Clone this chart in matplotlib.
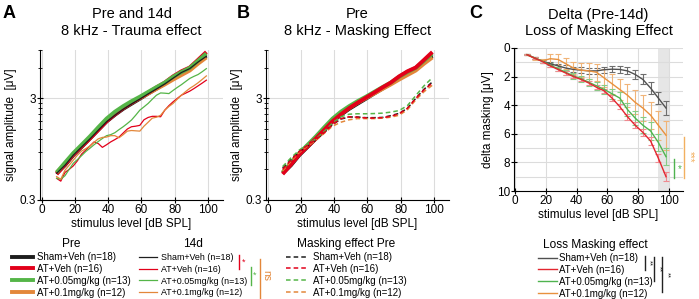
import matplotlib
matplotlib.use('Agg')
import matplotlib.pyplot as plt
from matplotlib.lines import Line2D
from matplotlib.ticker import FixedLocator, NullFormatter

plt.rcParams['font.family'] = ['Liberation Sans', 'DejaVu Sans']

# stimulus levels [dB SPL]
lev5 = [9, 14, 19, 24, 29, 34, 39, 44, 49, 54, 59, 64, 69, 74, 79, 84, 89, 94, 99]
lev25 = [9, 11.5, 14, 16.5, 19, 21.5, 24, 26.5, 29, 31.5, 34, 36.5, 39, 41.5, 44, 46.5,
         49, 51.5, 54, 56.5, 59, 61.5, 64, 66.5, 69, 71.5, 74, 76.5, 79, 81.5, 84,
         86.5, 89, 91.5, 94, 96.5, 99]

groups = ['Sham+Veh (n=18)', 'AT+Veh (n=16)', 'AT+0.05mg/kg (n=13)', 'AT+0.1mg/kg (n=12)']

# Pre signal amplitude [uV]
pre_sham = [0.55, 0.66, 0.83, 1.0, 1.21, 1.47, 1.78, 2.07, 2.37, 2.66, 2.98, 3.35, 3.75, 4.2, 4.8, 5.45, 5.95, 6.9, 7.9]
pre_veh = [0.54, 0.67, 0.84, 1.01, 1.21, 1.47, 1.79, 2.09, 2.41, 2.72, 3.05, 3.42, 3.85, 4.3, 4.95, 5.55, 6.05, 7.2, 8.6]
pre_005 = [0.56, 0.7, 0.87, 1.05, 1.27, 1.56, 1.9, 2.22, 2.52, 2.82, 3.12, 3.48, 3.88, 4.3, 4.9, 5.45, 6.0, 7.05, 8.3]
pre_01 = [0.56, 0.68, 0.85, 1.02, 1.22, 1.5, 1.84, 2.12, 2.42, 2.72, 3.02, 3.35, 3.72, 4.12, 4.6, 5.1, 5.65, 6.6, 7.6]

# 14d signal amplitude [uV]
d14_sham = [0.55, 0.66, 0.83, 1.0, 1.2, 1.46, 1.77, 2.05, 2.35, 2.65, 2.96, 3.33, 3.72, 4.17, 4.75, 5.4, 5.9, 6.85, 7.8]
d14_veh = [0.49, 0.46, 0.56, 0.60, 0.65, 0.73, 0.85, 0.93, 1.02, 1.12, 1.08, 0.99, 1.05, 1.12, 1.18, 1.25,
           1.37, 1.50, 1.58, 1.60, 1.63, 1.85, 1.95, 2.0, 2.0, 1.98, 2.3, 2.55, 2.78, 3.0, 3.23,
           3.38, 3.54, 3.75, 3.99, 4.25, 4.54]
d14_005 = [0.49, 0.48, 0.52, 0.6, 0.69, 0.75, 0.82, 0.9, 0.97, 1.05, 1.13, 1.21, 1.29, 1.32, 1.38, 1.48,
           1.58, 1.7, 1.84, 2.05, 2.3, 2.48, 2.68, 2.95, 3.23, 3.4, 3.38, 3.35, 3.6, 3.85, 4.1,
           4.4, 4.72, 4.95, 5.16, 5.5, 5.9]
d14_01 = [0.51, 0.48, 0.59, 0.66, 0.74, 0.83, 0.91, 0.96, 1.02, 1.11, 1.2, 1.24, 1.25, 1.29, 1.29, 1.23,
          1.32, 1.43, 1.45, 1.44, 1.43, 1.6, 1.75, 1.92, 1.96, 2.05, 2.3, 2.5, 2.68, 2.95, 3.23,
          3.5, 3.77, 4.0, 4.28, 4.62, 5.0]

# Pre with masker [uV]
msk_sham = [0.62, 0.75, 0.9, 1.03, 1.17, 1.38, 1.66, 1.88, 1.97, 1.97, 1.94, 1.94, 1.95, 2.03, 2.14, 2.4, 3.0, 3.7, 4.36]
msk_veh = [0.6, 0.74, 0.9, 1.04, 1.18, 1.38, 1.66, 1.9, 1.98, 1.96, 1.93, 1.92, 1.94, 2.0, 2.12, 2.4, 3.0, 3.65, 4.25]
msk_005 = [0.64, 0.78, 0.93, 1.06, 1.2, 1.42, 1.72, 1.98, 2.1, 2.12, 2.12, 2.13, 2.15, 2.2, 2.28, 2.55, 3.2, 4.0, 4.8]
msk_01 = [0.58, 0.72, 0.88, 1.02, 1.16, 1.36, 1.6, 1.75, 1.85, 1.9, 1.9, 1.9, 1.92, 1.96, 2.05, 2.32, 2.9, 3.5, 4.05]

# delta masking (Pre-14d) [uV], mean and sem
levC = [8, 13, 18, 23, 28, 33, 38, 43, 48, 53, 58, 63, 68, 73, 78, 83, 88, 93, 98]
dlt_sham = [0.47, 0.7, 0.92, 1.1, 1.25, 1.4, 1.5, 1.55, 1.6, 1.6, 1.52, 1.48, 1.5, 1.6, 1.85, 2.2, 2.8, 3.5, 4.2]
dlt_veh = [0.47, 0.72, 0.95, 1.25, 1.5, 1.75, 2.0, 2.2, 2.45, 2.75, 3.0, 3.5, 4.1, 4.8, 5.4, 5.9, 6.5, 7.7, 9.0]
dlt_005 = [0.47, 0.7, 0.93, 1.2, 1.45, 1.7, 1.95, 2.15, 2.4, 2.65, 2.9, 3.2, 3.5, 4.3, 4.9, 5.4, 5.8, 6.6, 7.6]
dlt_01 = [0.47, 0.72, 0.9, 0.75, 0.8, 1.1, 1.4, 1.55, 1.6, 1.7, 2.1, 2.5, 2.9, 3.3, 3.8, 4.2, 4.7, 5.4, 6.1]
sem_sham = [0.05, 0.08, 0.1, 0.12, 0.15, 0.18, 0.2, 0.22, 0.22, 0.22, 0.2, 0.2, 0.22, 0.25, 0.3, 0.35, 0.4, 0.45, 0.5]
sem_veh = [0.05, 0.07, 0.08, 0.1, 0.1, 0.12, 0.12, 0.13, 0.14, 0.15, 0.16, 0.18, 0.2, 0.2, 0.22, 0.25, 0.28, 0.3, 0.3]
sem_005 = [0.05, 0.07, 0.1, 0.12, 0.15, 0.18, 0.2, 0.22, 0.25, 0.28, 0.3, 0.35, 0.4, 0.45, 0.5, 0.55, 0.6, 0.6, 0.6]
sem_01 = [0.05, 0.1, 0.15, 0.35, 0.4, 0.4, 0.45, 0.5, 0.55, 0.6, 0.65, 0.7, 0.75, 0.8, 0.85, 0.9, 0.95, 1.0, 1.0]

cK, cR, cG, cO = '#1e1e1e', '#e2001a', '#55b548', '#e3873a'
colors = [cK, cR, cG, cO]

fig = plt.figure(figsize=(6.99, 2.99), dpi=100)
axA = fig.add_axes([40 / 699, 99 / 299, 183 / 699, 150 / 299])
axB = fig.add_axes([266 / 699, 99 / 299, 183 / 699, 150 / 299])
axC = fig.add_axes([514 / 699, 108 / 299, 169 / 699, 143 / 299])

for ax in (axA, axB, axC):
    ax.spines['top'].set_visible(False)
    ax.spines['right'].set_visible(False)
    ax.tick_params(labelsize=8.5, direction='inout', length=4, width=0.8, pad=1)
    ax.set_xlabel('stimulus level [dB SPL]', fontsize=8.5, labelpad=1)
    ax.set_xticks([0, 20, 40, 60, 80, 100])
    ax.grid(True, which='major', color='#dcdcdc', lw=0.8)
    ax.set_axisbelow(True)

for ax in (axA, axB):
    ax.set_yscale('log')
    ax.set_xlim(-1, 109)
    ax.set_ylim(0.3, 9)
    ax.yaxis.set_major_locator(FixedLocator([0.3, 3]))
    ax.yaxis.set_minor_locator(FixedLocator([0.3 * k for k in range(2, 10)] + [3 * k for k in range(2, 4)]))
    ax.yaxis.set_minor_formatter(NullFormatter())
    ax.set_yticklabels(['0.3', '3'])
    ax.tick_params(axis='y', which='minor', direction='inout', length=2.5, width=0.6)
    ax.set_ylabel('signal amplitude  [\u03bcV]', fontsize=8.5, labelpad=2)

# A: pre (thick) and 14d (thin)
for vals, c in zip([pre_sham, pre_01, pre_veh, pre_005], [cK, cO, cR, cG]):
    axA.plot(lev5, vals, color=c, lw=2.8, solid_capstyle='butt')
axA.plot(lev5, d14_sham, color=cK, lw=0.9)
for vals, c in zip([d14_veh, d14_005, d14_01], [cR, cG, cO]):
    axA.plot(lev25, vals, color=c, lw=0.9)
axA.set_title('Pre and 14d\n8 kHz - Trauma effect', fontsize=10.5, pad=11, linespacing=1.25)

# B: pre (thick) and masked pre (dashed)
for vals, c in zip([pre_sham, pre_01, pre_005, pre_veh], [cK, cO, cG, cR]):
    axB.plot(lev5, vals, color=c, lw=2.8, solid_capstyle='butt')
for vals, c in zip([msk_sham, msk_01, msk_005, msk_veh], [cK, cO, cG, cR]):
    axB.plot(lev5, vals, color=c, lw=1.1, ls=(0, (3, 2)))
axB.set_title('Pre\n8 kHz - Masking Effect', fontsize=10.5, pad=11, linespacing=1.25)

# C: delta masking with error bars
cC = ['#505050', '#e3262f', '#4fb34f', '#e8913e']
cE = ['#6e6e6e', '#ef8a90', '#86cc86', '#f0b478']
axC.axvspan(93, 100, color='#e6e6e6', lw=0, zorder=0.5)
for m, s, c, e in zip([dlt_sham, dlt_01, dlt_005, dlt_veh], [sem_sham, sem_01, sem_005, sem_veh],
                      [cC[0], cC[3], cC[2], cC[1]], [cE[0], cE[3], cE[2], cE[1]]):
    axC.errorbar(levC, m, yerr=s, color=c, ecolor=e, lw=1.0, elinewidth=0.8, capsize=2, capthick=0.8)
axC.set_xlim(-0.5, 109)
axC.set_ylim(10, 0)
axC.set_yticks([0, 2, 4, 6, 8, 10])
axC.set_yticks(range(1, 10, 2), minor=True)
axC.grid(True, which='minor', axis='y', color='#dcdcdc', lw=0.8)
axC.tick_params(axis='y', which='minor', length=0)
axC.set_ylabel('delta masking [\u03bcV]', fontsize=8.5, labelpad=2)
axC.set_title('Delta (Pre-14d)\nLoss of Masking Effect', fontsize=10.5, pad=9, linespacing=1.25)

# significance marks beside panel C
tC = axC.transAxes
fig.add_artist(Line2D([160 / 169, 160 / 169], [13 / 143, 32 / 143], transform=tC, color=cC[2], lw=1))
fig.text(164 / 169, 22 / 143, '*', transform=tC, color=cC[2], fontsize=7, ha='left', va='center')
fig.add_artist(Line2D([170 / 169, 170 / 169], [13 / 143, 54 / 143], transform=tC, color='#f2b060', lw=1))
fig.text(176 / 169, 34 / 143, '***', transform=tC, color='#f2b060', fontsize=7, ha='center', va='center',
         rotation=-90)

# panel letters
for x, s in [(3, 'A'), (237, 'B'), (469, 'C')]:
    fig.text(x / 699, 1 - 18 / 299, s, fontsize=13, fontweight='bold')

# legends
def leg(handles, title, x, y, hl=2.2, pad=0.4, fs=7.0, ls=0.2):
    L = fig.legend(handles=handles, labels=groups, loc='upper left', bbox_to_anchor=(x / 699, 1 - y / 299),
                   frameon=False, fontsize=fs, title=title, title_fontsize=8.6, handlelength=hl,
                   handletextpad=pad, labelspacing=ls, borderpad=0, borderaxespad=0)
    return L

leg([Line2D([], [], color=c, lw=2.8) for c in colors], 'Pre', 12, 238)
leg([Line2D([], [], color=c, lw=0.9) for c in colors], '14d', 139, 238, hl=2.0, pad=0.45, fs=6.4, ls=0.32)
leg([Line2D([], [], color=c, lw=1.1, ls=(0, (3, 2))) for c in colors], 'Masking effect Pre', 286, 238,
    pad=0.55)
leg([Line2D([], [], color=c, lw=1.0) for c in cC], 'Loss Masking effect', 538, 239, hl=2.0, pad=0.2)

# significance marks in legend area
def vbar(x, y0, y1, c):
    fig.add_artist(Line2D([x / 699, x / 699], [1 - y0 / 299, 1 - y1 / 299], color=c, lw=1))

vbar(239, 255, 269, cR)
fig.text(244 / 699, 1 - 262 / 299, '*', color=cR, fontsize=6.5, ha='center', va='center')
vbar(251, 267, 285, cG)
fig.text(255 / 699, 1 - 275 / 299, '*', color=cG, fontsize=6.5, ha='center', va='center')
vbar(260, 259, 298, cO)
fig.text(266 / 699, 1 - 276 / 299, 'ns', color=cO, fontsize=7.5, ha='center', va='center', rotation=-90)

for x, y0, y1 in [(645, 256, 270), (654, 257, 281), (662, 257, 292)]:
    vbar(x, y0, y1, '#222222')
    fig.text((x + 4.5) / 699, 1 - (y0 + y1) / 2 / 299, '**', color='#222222', fontsize=5.5,
             ha='center', va='center', rotation=-90)

fig.savefig('out.png', dpi=100)
